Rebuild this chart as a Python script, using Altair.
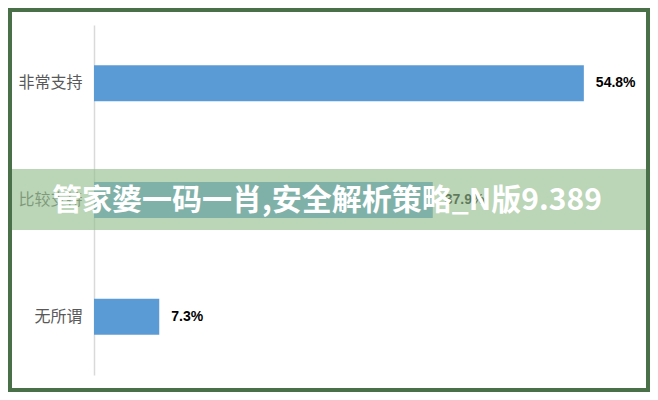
import altair as alt
import pandas as pd

categories = ["非常支持", "比较支持", "无所谓"]
values = [54.8, 37.9, 7.3]
value_labels = ["54.8%", "37.9%", "7.3%"]
watermark = "管家婆一码一肖,安全解析策略_N版9.389"

df = pd.DataFrame({"cat": categories, "val": values, "lab": value_labels})
one = pd.DataFrame({"k": [0]})

W, H = 556, 350

x_enc = alt.X("val:Q", scale=alt.Scale(domain=[0, 62.2], nice=False), axis=None)
y_enc = alt.Y("cat:N", sort=categories, title=None,
              axis=alt.Axis(domain=True, domainColor="#d9d9d9", domainWidth=1.5,
                            ticks=False, labelFontSize=16, labelColor="#595959",
                            labelFont="Noto Sans CJK SC", labelPadding=12, grid=False))

bars = alt.Chart(df).mark_bar(color="#5b9bd5", size=36).encode(x=x_enc, y=y_enc)
labels = alt.Chart(df).mark_text(align="left", baseline="middle", dx=12, fontSize=14,
                                 fontWeight="bold", font="Liberation Sans",
                                 color="#000000").encode(x=x_enc, y=y_enc, text="lab:N")

band = alt.Chart(one).mark_rect(color="#94bd8e", opacity=0.64).encode(
    x=alt.value(-84), x2=alt.value(554), y=alt.value(144), y2=alt.value(205))
band_text = alt.Chart(one).mark_text(text=watermark, fontSize=30, fontWeight="bold",
                                     font="Noto Sans CJK SC", color="white",
                                     align="center", baseline="middle").encode(
    x=alt.value(233), y=alt.value(176))
border = alt.Chart(one).mark_rect(fillOpacity=0, stroke="#4a7049", strokeWidth=4).encode(
    x=alt.value(-84), x2=alt.value(554), y=alt.value(-15), y2=alt.value(365))

chart = alt.layer(bars, labels, band, band_text, border).properties(
    width=W, height=H,
    autosize=alt.AutoSizeParams(type="none"),
    padding={"left": 86, "top": 17, "right": 0, "bottom": 17},
    background="white",
).configure_view(stroke=None)

chart.save("out.html", embed_options={"renderer": "svg", "actions": False})
